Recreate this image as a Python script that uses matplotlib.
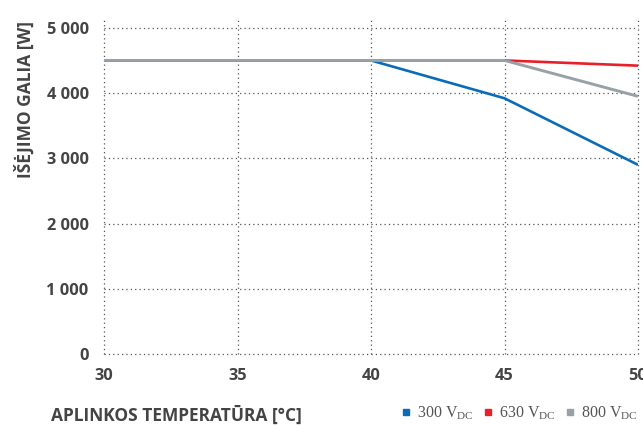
import matplotlib
matplotlib.use("Agg")
import matplotlib.pyplot as plt
from matplotlib.lines import Line2D

temps = [30, 40, 45, 50]
p300 = [4500, 4500, 3920, 2900]
p630 = [4500, 4500, 4500, 4420]
p800 = [4500, 4500, 4500, 3950]
series_labels = ["300", "630", "800"]
colors = ["#0a6cb8", "#e8202a", "#97a1a8"]
xticks = [30, 35, 40, 45, 50]
yticks = [0, 1000, 2000, 3000, 4000, 5000]
ytick_labels = ["0", "1 000", "2 000", "3 000", "4 000", "5 000"]

plt.rcParams['mathtext.fontset'] = 'custom'
plt.rcParams['mathtext.rm'] = 'Liberation Serif'

sans = ['Open Sans', 'DejaVu Sans']
txtc = "#444444"

fig = plt.figure(figsize=(6.43, 4.25), dpi=100)
ax = fig.add_axes([104/643, 71/425, 534/643, 334/425])

ax.plot(temps, p300, color=colors[0], lw=1.9, solid_capstyle='butt', zorder=3)
ax.plot(temps, p630, color=colors[1], lw=1.9, solid_capstyle='butt', zorder=3)
ax.plot(temps, p800, color=colors[2], lw=2.1, solid_capstyle='butt', zorder=4)

ax.set_xlim(30, 50)
ax.set_ylim(0, 5120)
ax.set_xticks(xticks)
ax.set_yticks(yticks)
ax.set_yticklabels(ytick_labels)
for s in ax.spines.values():
    s.set_visible(False)
ax.grid(True, linestyle=(0, (1, 2.5)), color="#555555", lw=0.9)
for gl in ax.get_xgridlines() + ax.get_ygridlines():
    gl.set_clip_on(False)
ax.tick_params(axis='y', length=0, pad=11)
ax.tick_params(axis='x', length=0, pad=10)
for lab in ax.get_xticklabels() + ax.get_yticklabels():
    lab.set_fontfamily(sans)
    lab.set_fontweight('bold')
    lab.set_fontsize(11.8)
    lab.set_color(txtc)

fig.text(25/643, 1 - 100/425, "IŠĖJIMO GALIA [W]", rotation=90, ha='center', va='center',
         fontfamily=sans, fontweight='bold', fontsize=12.5, color=txtc)
fig.text(51/643, 1 - 415/425, "APLINKOS TEMPERATŪRA [°C]", ha='left', va='center',
         fontfamily=sans, fontweight='bold', fontsize=12.5, color=txtc)

handles = [Line2D([], [], marker='s', ls='none', color=c, markersize=5) for c in colors]
labels = [lab + r" $\mathrm{V_{DC}}$" for lab in series_labels]
leg = fig.legend(handles, labels, loc='center right', bbox_to_anchor=(652/643, 1 - 413/425),
                 ncol=3, frameon=False, handlelength=0.6, handletextpad=0.4, columnspacing=0.6,
                 prop={'family': 'Liberation Serif', 'size': 11.5})
for t in leg.get_texts():
    t.set_color("#555555")

fig.savefig("out.png", dpi=100)
